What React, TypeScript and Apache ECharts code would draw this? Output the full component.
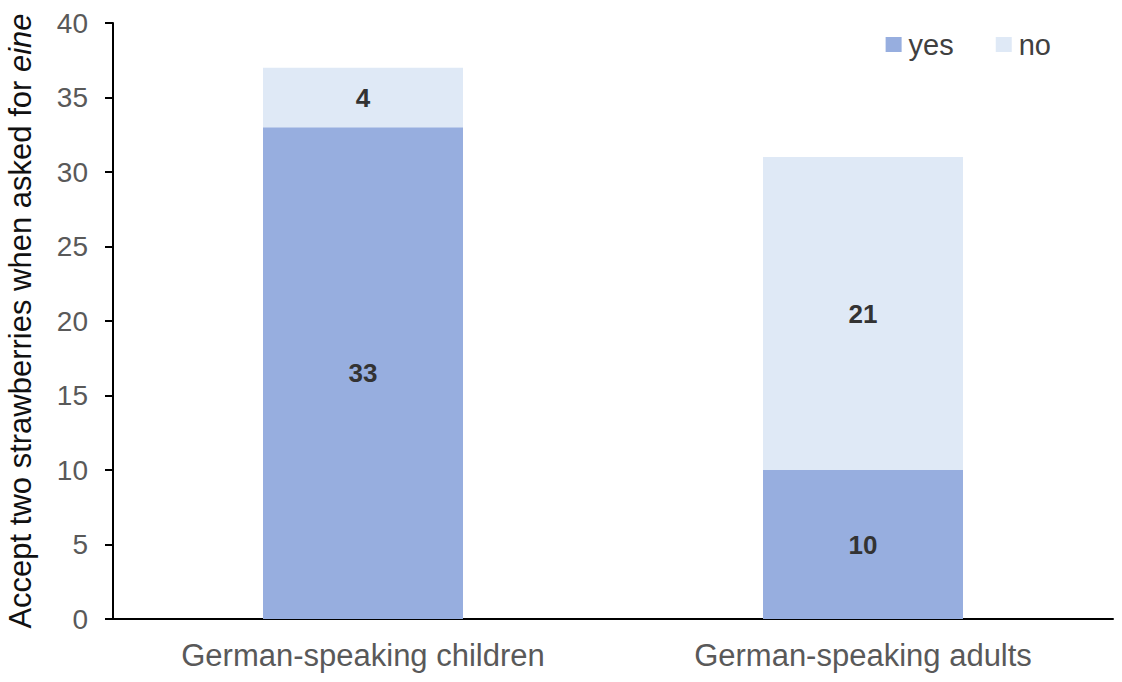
import React, { useEffect, useRef } from "react";
import * as echarts from "echarts";

const categories = ["German-speaking children", "German-speaking adults"];
const yesValues = [33, 10];
const noValues = [4, 21];
const seriesNames = ["yes", "no"];

export default function App() {
  const ref = useRef<HTMLDivElement>(null);
  useEffect(() => {
    const chart = echarts.init(ref.current!, null, { renderer: "svg" });
    const font = "Arial, 'Liberation Sans', sans-serif";
    chart.setOption({
      animation: false,
      textStyle: { fontFamily: font },
      grid: { left: 113, right: 9, top: 23, bottom: 63, containLabel: false, outerBoundsMode: "none" },
      legend: {
        right: 66,
        top: 25,
        itemWidth: 16,
        itemHeight: 15,
        itemGap: 42,
        icon: "rect",
        textStyle: { fontSize: 29, color: "#404040", fontFamily: font, padding: [0, 0, 0, 2] },
        data: seriesNames,
      },
      xAxis: {
        type: "category",
        data: categories,
        axisLine: { lineStyle: { color: "#000", width: 2 } },
        axisTick: { show: false },
        axisLabel: { fontSize: 31, color: "#595959", margin: 21, fontFamily: font },
      },
      yAxis: {
        type: "value",
        min: 0,
        max: 40,
        interval: 5,
        name: "{n|Accept two strawberries when asked for }{i|eine}",
        nameLocation: "middle",
        nameRotate: 90,
        nameGap: 77,
        nameTextStyle: {
          rich: {
            n: { fontSize: 31, color: "#111", fontFamily: font },
            i: { fontSize: 31, color: "#111", fontStyle: "italic", fontFamily: font },
          },
        },
        splitLine: { show: false },
        axisLine: { show: true, lineStyle: { color: "#000", width: 2 } },
        axisTick: { show: true, inside: false, length: 8, lineStyle: { color: "#000", width: 2 } },
        axisLabel: { fontSize: 28, color: "#595959", margin: 25, fontFamily: font },
      },
      series: [
        {
          name: seriesNames[0],
          type: "bar",
          stack: "total",
          data: yesValues,
          barWidth: 200,
          itemStyle: { color: "#97AEDF" },
          label: { show: true, position: "inside", fontSize: 26, fontWeight: "bold", color: "#333", fontFamily: font },
        },
        {
          name: seriesNames[1],
          type: "bar",
          stack: "total",
          data: noValues,
          barWidth: 200,
          itemStyle: { color: "#DFE9F6" },
          label: { show: true, position: "inside", fontSize: 26, fontWeight: "bold", color: "#333", fontFamily: font },
        },
      ],
    });
    return () => chart.dispose();
  }, []);
  return <div ref={ref} style={{ width: 1122, height: 682, position: "absolute", left: 0, top: 0 }} />;
}
